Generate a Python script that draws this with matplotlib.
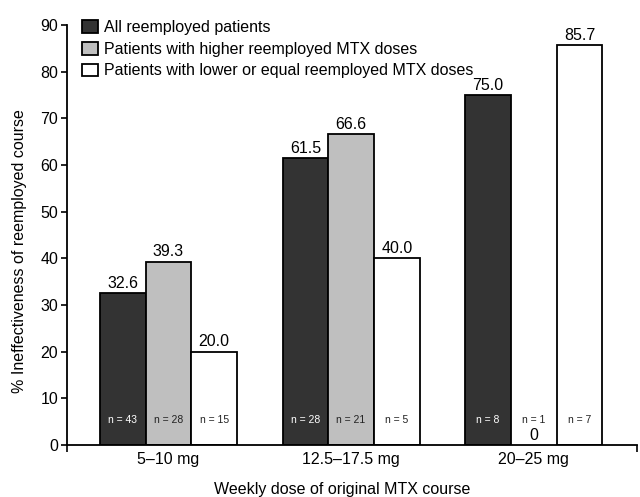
import matplotlib.pyplot as plt
import numpy as np
from matplotlib.patches import Patch

plt.rcParams['font.family'] = ['Liberation Sans', 'DejaVu Sans']

groups = ['5\u201310 mg', '12.5\u201317.5 mg', '20\u201325 mg']
all_pat = [32.6, 61.5, 75.0]
higher = [39.3, 66.6, 0.0]
lower = [20.0, 40.0, 85.7]
n_all = [43, 28, 8]
n_higher = [28, 21, 1]
n_lower = [15, 5, 7]
series_names = ['All reemployed patients',
                'Patients with higher reemployed MTX doses',
                'Patients with lower or equal reemployed MTX doses']

dark = '#333333'
grey = '#bfbfbf'
white = '#ffffff'

fig = plt.figure(figsize=(6.4, 4.97), dpi=100)
ax = fig.add_axes([66.7 / 640, 52 / 497, (637 - 66.7) / 640, 420 / 497])

x = np.arange(len(groups))
w = 0.25
series = [(all_pat, n_all, dark), (higher, n_higher, grey), (lower, n_lower, white)]
for j, (vals, ns, col) in enumerate(series):
    pos = x + (j - 1) * w
    for i in range(len(groups)):
        v = vals[i]
        if v > 0:
            ax.bar(pos[i], v, w, color=col, edgecolor='black', linewidth=1.3, zorder=2)
            ax.text(pos[i], v + 0.5, '%.1f' % v, ha='center', va='bottom', fontsize=11.5)
        else:
            # zero bar: only the value is written
            ax.text(pos[i], 2.1, '0', ha='center', va='center', fontsize=11.5)
        tc = 'white' if (col == dark and v > 0) else '#222222'
        ax.text(pos[i], 5.4, 'n = %d' % ns[i], ha='center', va='center',
                fontsize=7.5, color=tc, zorder=3)

ax.set_xlim(-0.557, 2.565)
ax.set_ylim(0, 90)
ax.set_yticks(range(0, 91, 10))
ax.set_xticks([-0.557, 2.565])
ax.set_xticklabels(['', ''])
ax.set_xticks(x, minor=True)
ax.set_xticklabels(groups, minor=True, fontsize=11.5)
ax.tick_params(axis='x', which='minor', length=0, pad=5)
ax.tick_params(axis='x', which='major', length=5, width=1.2, direction='out')
ax.tick_params(axis='y', length=4, width=1.2, direction='out', labelsize=11.5, pad=2)

for s in ['top', 'right']:
    ax.spines[s].set_visible(False)
for s in ['left', 'bottom']:
    ax.spines[s].set_linewidth(1.3)

ax.set_ylabel('% Ineffectiveness of reemployed course', fontsize=11.5)
ax.yaxis.set_label_coords(-0.069, 0.462)
ax.set_xlabel('Weekly dose of original MTX course', fontsize=11.5)
ax.xaxis.set_label_coords((342 - 66.7) / (637 - 66.7), -0.088)

handles = [Patch(facecolor=c, edgecolor='black', linewidth=1.3) for c in [dark, grey, white]]
fig.legend(handles, series_names, loc='upper left', bbox_to_anchor=(82 / 640, 1 - 20 / 497),
           bbox_transform=fig.transFigure, frameon=False, fontsize=11.5,
           borderpad=0, borderaxespad=0, handlelength=1.0, handleheight=0.85,
           handletextpad=0.35, labelspacing=0.42)

fig.savefig('out.png', dpi=100)
